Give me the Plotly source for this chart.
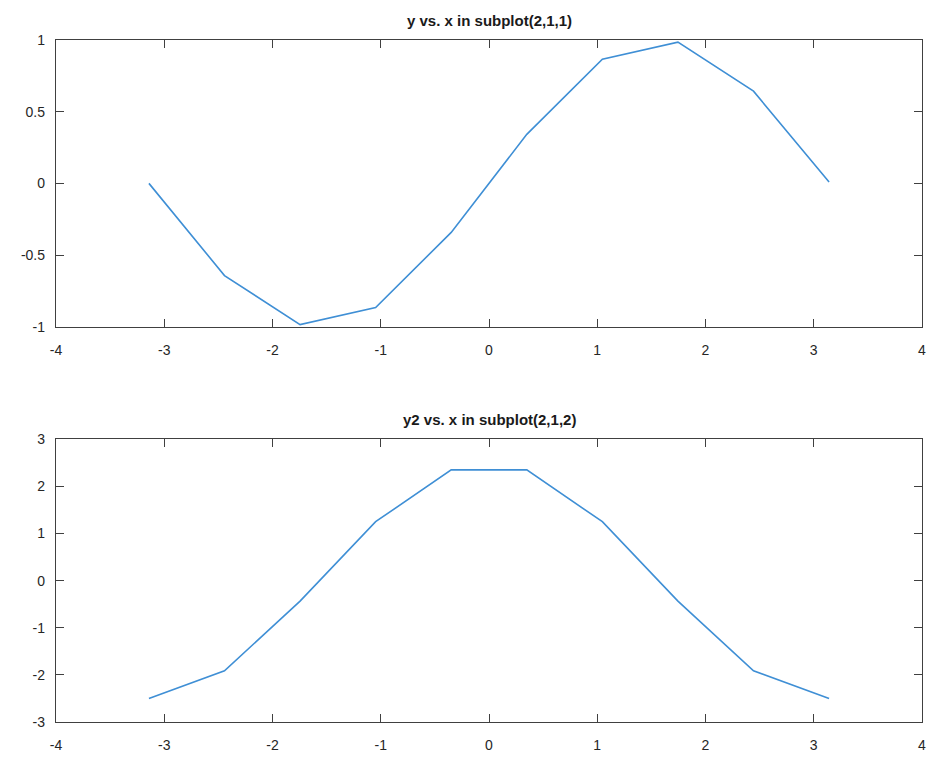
import plotly.graph_objects as go

x = [-3.1416, -2.4435, -1.7453, -1.0472, -0.3491, 0.3491, 1.0472, 1.7453, 2.4435, 3.1416]
y = [0.0, -0.643, -0.985, -0.866, -0.342, 0.342, 0.866, 0.985, 0.643, 0.01]
y2 = [-2.5, -1.915, -0.434, 1.25, 2.349, 2.349, 1.25, -0.434, -1.915, -2.5]
titles = ["y vs. x in subplot(2,1,1)", "y2 vs. x in subplot(2,1,2)"]
xticks = [-4, -3, -2, -1, 0, 1, 2, 3, 4]
yticks1 = [-1, -0.5, 0, 0.5, 1]
yticks2 = [-3, -2, -1, 0, 1, 2, 3]

W, H = 930, 757
ml, mr, mt, mb = 56, 4, 40, 27
top_px, bot_px = 40, 725
ph = bot_px - top_px

def frac(py):
    return (bot_px - py) / ph

line_color = "#3f8fd5"
axis_color = "#404040"
font = dict(family="Liberation Sans, Arial, sans-serif", size=14, color="#262626")
tfont = dict(family="Liberation Sans, Arial, sans-serif", size=15, color="#1a1a1a")

fig = go.Figure()
fig.add_trace(go.Scatter(x=x, y=y, mode="lines", line=dict(color=line_color, width=1.6),
                         xaxis="x", yaxis="y", showlegend=False))
fig.add_trace(go.Scatter(x=x, y=y2, mode="lines", line=dict(color=line_color, width=1.6),
                         xaxis="x2", yaxis="y2", showlegend=False))

ax_common = dict(showgrid=False, zeroline=False, showline=True, linecolor=axis_color,
                 linewidth=1.3, mirror="allticks", ticks="inside", ticklen=8,
                 tickcolor=axis_color, tickwidth=1.3, tickfont=font)

def lbl(v):
    return [str(t) for t in v]

fig.update_layout(
    width=W, height=H, paper_bgcolor="white", plot_bgcolor="white",
    margin=dict(l=ml, r=mr, t=mt, b=mb),
    xaxis=dict(domain=[0, 1], anchor="y", range=[-4, 4], tickvals=xticks, ticktext=lbl(xticks),
               ticklabelstandoff=10, **ax_common),
    yaxis=dict(domain=[frac(328), 1], anchor="x", range=[-1, 1], tickvals=yticks1,
               ticktext=lbl(yticks1), ticklabelstandoff=7, **ax_common),
    xaxis2=dict(domain=[0, 1], anchor="y2", range=[-4, 4], tickvals=xticks, ticktext=lbl(xticks),
                ticklabelstandoff=10, **ax_common),
    yaxis2=dict(domain=[0, frac(441)], anchor="x2", range=[-3, 3], tickvals=yticks2,
                ticktext=lbl(yticks2), ticklabelstandoff=7, **ax_common),
    annotations=[
        dict(text="<b>" + titles[0] + "</b>", x=0.5, xref="paper", y=1 + 20 / ph, yref="paper",
             yanchor="middle", showarrow=False, font=tfont),
        dict(text="<b>" + titles[1] + "</b>", x=0.5, xref="paper", y=frac(421), yref="paper",
             yanchor="middle", showarrow=False, font=tfont),
    ],
)

fig.write_html("out.html", config={"displayModeBar": False})

with open("out.html", "r", encoding="utf-8") as f:
    html = f.read()
html = html.replace("<body>", '<body style="margin:0;padding:0;overflow:hidden">', 1)
with open("out.html", "w", encoding="utf-8") as f:
    f.write(html)
